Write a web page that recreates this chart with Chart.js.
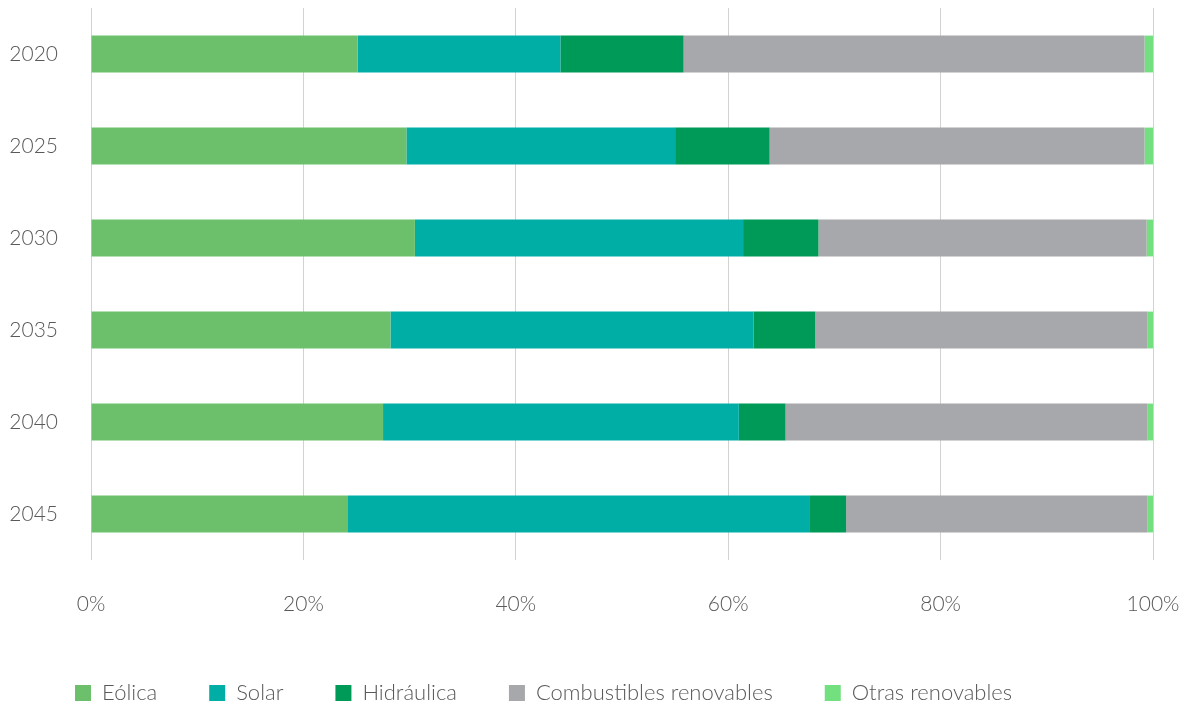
<!DOCTYPE html>
<html>
<head>
<meta charset="utf-8">
<script src="https://cdn.jsdelivr.net/npm/chart.js@4"></script>
<style>
  html, body { margin: 0; padding: 0; background: #ffffff; }
  #wrap { width: 1195px; height: 707px; position: relative; }
</style>
</head>
<body>
<div id="wrap"><canvas id="c" width="1195" height="707"></canvas></div>
<script>
const categories = ['2020', '2025', '2030', '2035', '2040', '2045'];
const eolica        = [25.1, 29.7, 30.5, 28.2, 27.5, 24.2];
const solar         = [19.1, 25.3, 30.9, 34.2, 33.5, 43.5];
const hidraulica    = [11.6,  8.9,  7.1,  5.8,  4.4,  3.4];
const combustibles  = [43.4, 35.3, 30.9, 31.3, 34.1, 28.4];
const otras         = [ 0.8,  0.8,  0.6,  0.5,  0.5,  0.5];
const seriesNames = ['Eólica', 'Solar', 'Hidráulica', 'Combustibles renovables', 'Otras renovables'];
const tickValues = [0, 20, 40, 60, 80, 100];

const colors = ['#6CC06B', '#00AEA5', '#009A58', '#A7A8AB', '#73E07F'];
const seriesData = [eolica, solar, hidraulica, combustibles, otras];

const FONT = 'Lato, "Open Sans", sans-serif';
const TXT = '#595959';

const legendFix = {
  id: 'legendFix',
  beforeLayout(chart) {
    const lg = chart.legend;
    if (lg && !lg._patched) {
      const orig = lg.fit;
      lg.fit = function () { orig.call(this); this.height = 77; };
      lg._patched = true;
    }
  },
  afterLayout(chart) {
    const lg = chart.legend;
    if (lg) { lg.left += 23; lg.right += 23; }
  }
};

function noPad(scale) {
  scale.paddingTop = 0; scale.paddingBottom = 0;
  scale.paddingLeft = 0; scale.paddingRight = 0;
}

new Chart(document.getElementById('c'), {
  type: 'bar',
  data: {
    labels: categories,
    datasets: seriesData.map((d, i) => ({
      label: seriesNames[i],
      data: d,
      backgroundColor: colors[i],
      borderWidth: 0,
      barPercentage: 0.4,
      categoryPercentage: 1.0
    }))
  },
  options: {
    indexAxis: 'y',
    responsive: false,
    animation: false,
    layout: { padding: { top: 8, left: 0, right: 42, bottom: 0 } },
    scales: {
      x: {
        stacked: true,
        min: 0, max: 100,
        afterBuildTicks(scale) { scale.ticks = tickValues.map(v => ({ value: v })); },
        afterFit(scale) { scale.height = 70; noPad(scale); },
        grid: { color: '#d2d2d2', lineWidth: 1, drawTicks: false },
        border: { display: false },
        ticks: {
          padding: 32,
          color: TXT,
          font: { family: FONT, size: 21, weight: 300 },
          callback: v => v + '%'
        }
      },
      y: {
        stacked: true,
        afterFit(scale) { scale.width = 91; noPad(scale); },
        grid: { display: false, drawTicks: false },
        border: { display: false },
        ticks: {
          padding: 33,
          color: TXT,
          font: { family: FONT, size: 21, weight: 300 }
        }
      }
    },
    plugins: {
      legend: {
        position: 'bottom',
        align: 'start',
        labels: {
          boxWidth: 16,
          boxHeight: 16,
          padding: 52,
          color: TXT,
          font: { family: FONT, size: 22, weight: 300 }
        }
      },
      tooltip: { enabled: false }
    }
  },
  plugins: [legendFix]
});
</script>
</body>
</html>
